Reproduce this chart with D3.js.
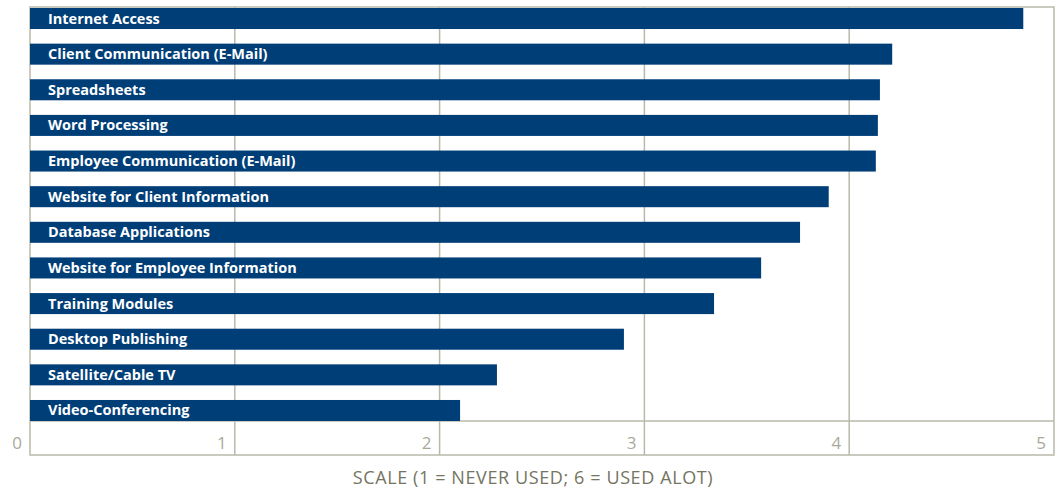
<!DOCTYPE html>
<html>
<head>
<meta charset="utf-8">
<script src="https://cdn.jsdelivr.net/npm/d3@7"></script>
<style>
  body { margin: 0; background: #fff; }
  svg { display: block; font-family: "Open Sans", "Noto Sans", sans-serif; }
</style>
</head>
<body>
<div id="chart"></div>
<script>
// values
const categories = [
  "Internet Access",
  "Client Communication (E-Mail)",
  "Spreadsheets",
  "Word Processing",
  "Employee Communication (E-Mail)",
  "Website for Client Information",
  "Database Applications",
  "Website for Employee Information",
  "Training Modules",
  "Desktop Publishing",
  "Satellite/Cable TV",
  "Video-Conferencing"
]
const scores = [4.85, 4.21, 4.15, 4.14, 4.13, 3.90, 3.76, 3.57, 3.34, 2.90, 2.28, 2.10]
const ticks = [0, 1, 2, 3, 4, 5]
const axisTitle = "SCALE (1 = NEVER USED; 6 = USED ALOT)"

const width = 1058
const height = 492
const plotLeft = 30, plotRight = 1054, plotTop = 7, barsBottom = 421, plotBottom = 455

const data = categories.map((c, i) => ({ name: c, value: scores[i] }))

const xScale = d3.scaleLinear()
  .domain([0, 5])
  .range([plotLeft, plotRight])

const yScale = d3.scaleBand()
  .domain(categories)
  .range([plotTop + 1, barsBottom])
  .paddingInner(0.41)
  .paddingOuter(0)

const gridColor = "#b9b9ab"

const svg = d3.select("#chart")
  .append("svg")
  .attr("width", width)
  .attr("height", height)

// grid lines
svg.append("g")
  .selectAll("line")
  .data(ticks.slice(1, -1))
  .join("line")
  .attr("x1", d => xScale(d))
  .attr("x2", d => xScale(d))
  .attr("y1", plotTop)
  .attr("y2", plotBottom)
  .attr("stroke", gridColor)
  .attr("stroke-width", 1.5)

// frame + separator for the tick row
svg.append("rect")
  .attr("x", plotLeft)
  .attr("y", plotTop)
  .attr("width", plotRight - plotLeft)
  .attr("height", plotBottom - plotTop)
  .attr("fill", "none")
  .attr("stroke", gridColor)
  .attr("stroke-width", 1.5)

svg.append("line")
  .attr("x1", plotLeft)
  .attr("x2", plotRight)
  .attr("y1", barsBottom)
  .attr("y2", barsBottom)
  .attr("stroke", gridColor)
  .attr("stroke-width", 1.5)

// bars
svg.append("g")
  .selectAll("rect")
  .data(data)
  .join("rect")
  .attr("x", xScale(0))
  .attr("y", d => yScale(d.name))
  .attr("width", d => xScale(d.value) - xScale(0))
  .attr("height", yScale.bandwidth())
  .attr("fill", "#003e78")

svg.append("g")
  .selectAll("text")
  .data(data)
  .join("text")
  .attr("x", xScale(0) + 18)
  .attr("y", d => yScale(d.name) + yScale.bandwidth() / 2 + 5)
  .attr("fill", "#fff")
  .attr("font-size", "14.5px")
  .attr("font-weight", "bold")
  .text(d => d.name)

// tick labels, right aligned just left of each grid line
svg.append("g")
  .selectAll("text")
  .data(ticks)
  .join("text")
  .attr("x", d => xScale(d) - 8)
  .attr("y", 449)
  .attr("text-anchor", "end")
  .attr("fill", "#a9a99b")
  .attr("font-size", "17px")
  .text(d => d)

svg.append("text")
  .attr("x", 533)
  .attr("y", 484)
  .attr("text-anchor", "middle")
  .attr("fill", "#74745f")
  .attr("font-size", "18px")
  .attr("letter-spacing", "0.6px")
  .text(axisTitle)
</script>
</body>
</html>
